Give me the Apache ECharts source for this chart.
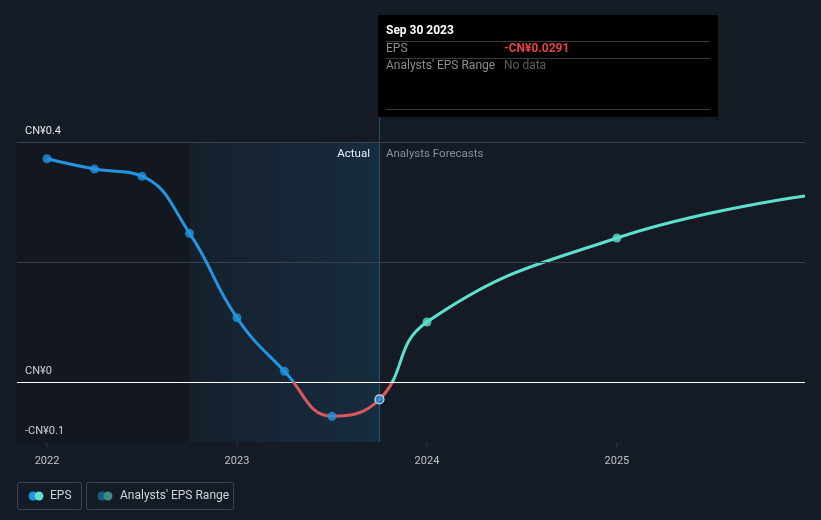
<!DOCTYPE html>
<html>
<head>
<meta charset="utf-8">
<script src="https://cdn.jsdelivr.net/npm/echarts@6/dist/echarts.min.js"></script>
<style>
html,body{margin:0;padding:0;background:#151b25;}
#chart{width:821px;height:520px;}
</style>
</head>
<body>
<div id="chart"></div>
<script>
// ---- data ----
var actualX = [2022.0, 2022.25, 2022.5, 2022.75, 2023.0, 2023.25, 2023.5, 2023.75];
var actualEps = [0.372, 0.355, 0.343, 0.248, 0.107, 0.018, -0.057, -0.0291];
var forecastX = [2023.75, 2024.0, 2025.0, 2025.99];
var forecastEps = [-0.0291, 0.100, 0.240, 0.310];
var forecastMarked = [false, true, true, false];
var yLabelValues = [0.4, 0, -0.1];
var yLabelTexts = ['CN¥0.4', 'CN¥0', '-CN¥0.1'];
var xTickYears = [2022, 2023, 2024, 2025];
var gridLineValues = [0.4, 0.2];
var xMin = 2021.842, xMax = 2025.99;
var yMin = -0.1, yMax = 0.4;
var pastStart = 2022.75, pastEnd = 2023.75;
var cursorTop = 0.4417;

var BLUE = '#2394df', RED = '#d9585c', TEAL = '#5ce0cd';
var FONT = 'Roboto, "Noto Sans", sans-serif';
var W = 821, H = 520;
var G = {left: 17, right: 16, top: 142, bottom: 78};
var plotW = W - G.left - G.right;
var splitW = plotW * (pastEnd - xMin) / (xMax - xMin);

var actualData = actualX.map(function (x, i) { return [x, actualEps[i]]; });
var forecastData = forecastX.map(function (x, i) { return [x, forecastEps[i]]; });
var combinedData = actualData.concat(forecastData.slice(1));
var forecastMarkers = forecastData.filter(function (d, i) { return forecastMarked[i]; });

function splitColor(top, bottom, yZero) {
  var o = Math.max(0, Math.min(1, yZero / H));
  return {type: 'linear', x: 0, y: 0, x2: 0, y2: H, global: true,
    colorStops: [{offset: 0, color: top}, {offset: o, color: top},
                 {offset: o, color: bottom}, {offset: 1, color: bottom}]};
}
function hiddenX(min, max, idx) {
  return {type: 'value', gridIndex: idx, min: min, max: max, show: false,
    axisLine: {show: false}, axisTick: {show: false}, axisLabel: {show: false}, splitLine: {show: false}};
}
function hiddenY(idx) {
  return {type: 'value', gridIndex: idx, min: yMin, max: yMax, show: false,
    axisLine: {show: false}, axisTick: {show: false}, axisLabel: {show: false}, splitLine: {show: false}};
}

var chart = echarts.init(document.getElementById('chart'), null, {renderer: 'canvas'});
var option = {
  backgroundColor: '#151b25',
  animation: false,
  grid: [
    {left: G.left, right: G.right, top: G.top, bottom: G.bottom},
    {left: G.left, width: splitW, top: G.top, bottom: G.bottom},
    {left: G.left + splitW, right: G.right, top: G.top, bottom: G.bottom}
  ],
  xAxis: [
    {
      type: 'value', gridIndex: 0, min: xMin, max: xMax,
      axisLine: {show: true, lineStyle: {color: '#3a404a', width: 1}},
      axisTick: {show: false}, splitLine: {show: false}, axisLabel: {show: false}
    },
    hiddenX(xMin, pastEnd, 1),
    hiddenX(pastEnd, xMax, 2)
  ],
  yAxis: [
    {
      type: 'value', gridIndex: 0, min: yMin, max: yMax, interval: 0.1,
      axisLine: {show: false}, axisTick: {show: false}, splitLine: {show: false},
      axisLabel: {
        inside: true, margin: 8, verticalAlign: 'bottom', padding: [0, 0, 5, 0],
        color: '#e8e8e8', fontSize: 11, fontFamily: FONT,
        formatter: function (v) {
          for (var i = 0; i < yLabelValues.length; i++) {
            if (Math.abs(v - yLabelValues[i]) < 1e-6) return yLabelTexts[i];
          }
          return '';
        }
      }
    },
    hiddenY(1),
    hiddenY(2)
  ],
  series: [
    {
      id: 'actual', type: 'line', xAxisIndex: 1, yAxisIndex: 1, data: combinedData, smooth: 0.45,
      clip: true, showSymbol: false, lineStyle: {width: 3, color: BLUE}, z: 5, silent: true
    },
    {
      id: 'forecast', type: 'line', xAxisIndex: 2, yAxisIndex: 2, data: combinedData, smooth: 0.45,
      clip: true, showSymbol: false, lineStyle: {width: 3, color: TEAL}, z: 4, silent: true
    },
    {
      type: 'scatter', data: actualData.map(function (d, i) {
        if (i === actualData.length - 1) {
          return {value: d, itemStyle: {color: BLUE, borderColor: '#ffffff', borderWidth: 1.2}};
        }
        return d;
      }),
      symbolSize: 9, itemStyle: {color: BLUE}, z: 6, silent: true
    },
    {
      type: 'scatter', data: forecastMarkers, symbolSize: 9,
      itemStyle: {color: TEAL}, z: 6, silent: true
    },
    {
      type: 'scatter', data: xTickYears.map(function (y) { return [y, yMin]; }),
      symbol: 'rect', symbolSize: [1, 5], symbolOffset: [0, 3],
      itemStyle: {color: '#3a404a'}, silent: true, z: 3, clip: false,
      label: {show: true, position: 'bottom', distance: 8, color: '#e8e8e8', fontSize: 11, fontFamily: FONT,
        formatter: function (p) { return String(p.value[0]); }}
    },
    {
      type: 'line', data: [], silent: true, z: 1,
      markArea: {
        silent: true,
        data: [
          [{xAxis: xMin, itemStyle: {color: 'rgba(0,0,0,0.12)'}}, {xAxis: pastStart}],
          [{xAxis: pastStart, itemStyle: {color: {type: 'linear', x: 0, y: 0, x2: 1, y2: 0,
            colorStops: [{offset: 0, color: 'rgba(35,148,223,0.04)'}, {offset: 1, color: 'rgba(35,148,223,0.14)'}]}}},
           {xAxis: pastEnd}]
        ]
      },
      markLine: {
        silent: true, symbol: ['none', 'none'], label: {show: false},
        lineStyle: {color: '#3b414b', width: 1, type: 'solid'},
        data: gridLineValues.map(function (v) { return {yAxis: v}; })
      }
    },
    {
      type: 'line', data: [], silent: true, z: 3,
      markLine: {
        silent: true, symbol: ['none', 'none'], label: {show: false},
        lineStyle: {color: '#ffffff', width: 1, type: 'solid'},
        data: [{yAxis: 0}]
      }
    },
    {
      type: 'line', data: [[pastEnd, yMin], [pastEnd, cursorTop]], clip: false,
      showSymbol: false, silent: true, z: 2,
      lineStyle: {color: '#22557a', width: 1}
    }
  ],
  graphic: [
    {type: 'text', style: {x: 370, y: 154, text: 'Actual', align: 'right', verticalAlign: 'middle',
      fill: '#ffffff', font: '11.5px ' + FONT}},
    {type: 'text', style: {x: 386, y: 154, text: 'Analysts Forecasts', align: 'left', verticalAlign: 'middle',
      fill: '#8a8f97', font: '11.5px ' + FONT}},
    {type: 'rect', shape: {x: 378, y: 15, width: 340, height: 102}, style: {fill: '#000000'}, z: 20},
    {type: 'text', z: 21, style: {x: 386, y: 31, text: 'Sep 30 2023', verticalAlign: 'middle',
      fill: '#ffffff', font: 'bold 12px ' + FONT}},
    {type: 'line', z: 21, shape: {x1: 386, y1: 41.5, x2: 710, y2: 41.5}, style: {stroke: '#3a3a3a', lineWidth: 1}},
    {type: 'text', z: 21, style: {x: 386, y: 49, text: 'EPS', verticalAlign: 'middle', fill: '#8c8c8c', font: '12px ' + FONT}},
    {type: 'text', z: 21, style: {x: 504, y: 49, text: '-CN¥0.0291', verticalAlign: 'middle', fill: '#e8403f', font: 'bold 12px ' + FONT}},
    {type: 'line', z: 21, shape: {x1: 386, y1: 58.5, x2: 710, y2: 58.5}, style: {stroke: '#3a3a3a', lineWidth: 1}},
    {type: 'text', z: 21, style: {x: 386, y: 66, text: "Analysts' EPS Range", verticalAlign: 'middle', fill: '#8c8c8c', font: '12px ' + FONT}},
    {type: 'text', z: 21, style: {x: 504, y: 66, text: 'No data', verticalAlign: 'middle', fill: '#5e5e5e', font: '12px ' + FONT}},
    {type: 'line', z: 21, shape: {x1: 386, y1: 109.5, x2: 710, y2: 109.5}, style: {stroke: '#3a3a3a', lineWidth: 1}},
    {type: 'rect', shape: {x: 17.5, y: 482.5, width: 64, height: 27, r: 2}, style: {fill: 'none', stroke: '#3f4550', lineWidth: 1}},
    {type: 'circle', shape: {cx: 33, cy: 496, r: 4.5}, style: {fill: BLUE}},
    {type: 'circle', shape: {cx: 39, cy: 496, r: 4.5}, style: {fill: TEAL}},
    {type: 'text', style: {x: 50, y: 496, text: 'EPS', verticalAlign: 'middle', fill: '#d0d3d8', font: '12px ' + FONT}},
    {type: 'rect', shape: {x: 86.5, y: 482.5, width: 147, height: 27, r: 2}, style: {fill: 'none', stroke: '#3f4550', lineWidth: 1}},
    {type: 'circle', shape: {cx: 102, cy: 496, r: 4.5}, style: {fill: '#1e5a86'}},
    {type: 'circle', shape: {cx: 108, cy: 496, r: 4.5}, style: {fill: '#3a8a86'}},
    {type: 'text', style: {x: 120, y: 496, text: "Analysts' EPS Range", verticalAlign: 'middle', fill: '#d0d3d8', font: '12px ' + FONT}}
  ]
};
chart.setOption(option);
var yZero = chart.convertToPixel({gridIndex: 0}, [xMin, 0])[1];
chart.setOption({series: [
  {id: 'actual', lineStyle: {color: splitColor(BLUE, RED, yZero)}},
  {id: 'forecast', lineStyle: {color: splitColor(TEAL, RED, yZero)}}
]});
</script>
</body>
</html>
